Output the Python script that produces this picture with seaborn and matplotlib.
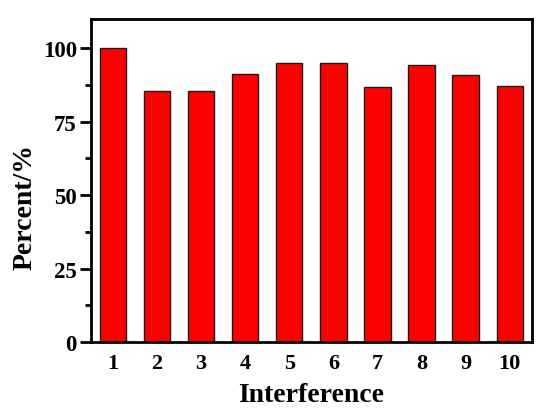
import numpy as np
import pandas as pd
import matplotlib
matplotlib.use("Agg")
import matplotlib.pyplot as plt
import seaborn as sns
from matplotlib.ticker import MultipleLocator

interference = [1, 2, 3, 4, 5, 6, 7, 8, 9, 10]
percent = [100.0, 85.6, 85.6, 91.3, 94.9, 95.1, 86.7, 94.2, 90.8, 87.1]

sns.set_theme(style="ticks")
plt.rcParams['font.family'] = ['Liberation Serif', 'DejaVu Serif']
plt.rcParams['font.weight'] = 'bold'
plt.rcParams['text.color'] = 'black'
plt.rcParams['axes.labelcolor'] = 'black'
plt.rcParams['xtick.color'] = 'black'
plt.rcParams['ytick.color'] = 'black'

df = pd.DataFrame({'Interference': interference, 'Percent': percent})

fig, ax = plt.subplots(figsize=(5.5, 4.14), dpi=100)
sns.barplot(data=df, x='Interference', y='Percent', native_scale=True,
            color='#ff0000', saturation=1, width=0.6,
            edgecolor='#1a1a1a', linewidth=1, ax=ax)

ax.set_xlim(0.5, 10.5)
ax.set_ylim(0, 110)
ax.set_xticks(interference)
ax.yaxis.set_major_locator(MultipleLocator(25))
ax.yaxis.set_minor_locator(MultipleLocator(12.5))

ax.tick_params(axis='x', length=0, pad=8, labelsize=16, labelcolor='black')
ax.tick_params(axis='y', which='major', direction='out', length=8, width=2,
               pad=2, labelsize=16.5, labelcolor='black')
ax.tick_params(axis='y', which='minor', direction='out', length=4, width=2)
for lab in ax.get_xticklabels() + ax.get_yticklabels():
    lab.set_fontweight('bold')

for s in ax.spines.values():
    s.set_visible(True)
    s.set_linewidth(2)
    s.set_color('black')

ax.set_xlabel('Interference', fontsize=20, fontweight='bold', labelpad=6, color='black')
ax.set_ylabel('Percent/%', fontsize=20, fontweight='bold', color='black')
ax.yaxis.set_label_coords(-0.12, 0.42)

fig.subplots_adjust(left=0.165, right=0.967, top=0.952, bottom=0.171)
fig.savefig('out.png', dpi=100)
